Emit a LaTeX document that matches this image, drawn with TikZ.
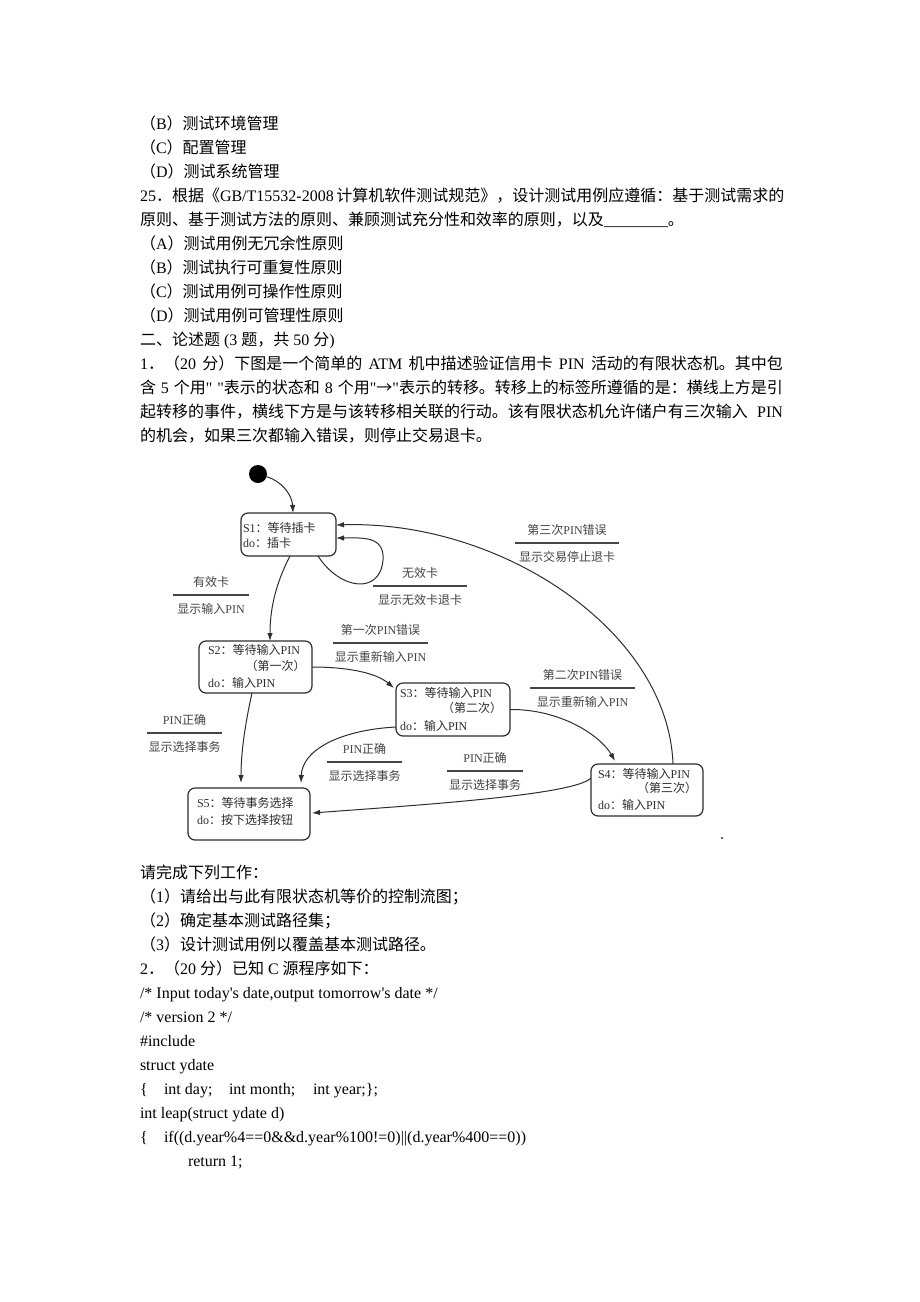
\documentclass[tikz,border=0pt]{standalone}
\usepackage{fontspec}
\setmainfont{Liberation Serif}[Ligatures=TeXOff]
\newfontfamily\cjkfont{Noto Sans CJK SC}
\usetikzlibrary{arrows.meta,calc}
\XeTeXinterchartokenstate=1
\newcount\cjkcnt
\newcommand\setcjkrange[2]{\cjkcnt=#1\relax\loop\XeTeXcharclass\cjkcnt=1\relax\ifnum\cjkcnt<#2\advance\cjkcnt by 1\relax\repeat}
\setcjkrange{"4E00}{"9FFF}
\setcjkrange{"3000}{"303F}
\setcjkrange{"FF00}{"FFEF}
\XeTeXcharclass"2192=1
\XeTeXinterchartoks 0 1 = {\cjkfont}
\XeTeXinterchartoks 4095 1 = {\cjkfont}
\XeTeXinterchartoks 1 0 = {\rmfamily}
\XeTeXinterchartoks 1 4095 = {\rmfamily}
\definecolor{dg}{HTML}{2E2E2E}
\definecolor{lgc}{HTML}{454545}
\newcommand\translabel[6]{%
  \coordinate (#1) at (#2,#3);
  \draw[labline] ($(#1)+(-#4,0)$) -- ($(#1)+(#4,0)$);
  \node[labtext] (#1e) at ($(#1)+(0,-8.5)$) {#5};
  \node[labtext] (#1a) at ($(#1)+(0,18)$) {#6};}
\begin{document}
\begin{tikzpicture}[x=1pt,y=-1pt,
  every node/.style={inner sep=0pt,outer sep=0pt},
  txt/.style={anchor=base west,font=\fontsize{16pt}{24pt}\selectfont,text=black},
  stbox/.style={draw=dg,line width=1.2pt,rounded corners=7pt},
  sttext/.style={font=\fontsize{12pt}{14pt}\selectfont,text=dg},
  labtext/.style={anchor=base,font=\fontsize{12pt}{14pt}\selectfont,text=lgc},
  labline/.style={draw=lgc,line width=1.1pt},
  conn/.style={draw=dg,line width=1pt,-{Latex[length=8pt,width=5.5pt]}}]
\fill[white] (0,0) rectangle (920,1302);
\path[use as bounding box] (0,0) rectangle (920,1302);
% ---- upper text ----
\node[txt] (t1) at (140,129) {（B）测试环境管理};
\node[txt] (t2) at (140,153) {（C）配置管理};
\node[txt] (t3) at (140,177) {（D）测试系统管理};
\node[txt] (t4) at (140,201) {\makebox[643pt][s]{25．根据《GB/T15532-2008 计算机软件测试规范》，设计测试用例应遵循：基于测试需求的}};
\node[txt] (t5) at (140,225) {原则、基于测试方法的原则、兼顾测试充分性和效率的原则，以及\_\_\_\_\_\_\_\_。};
\node[txt] (t6) at (140,249) {（A）测试用例无冗余性原则};
\node[txt] (t7) at (140,273) {（B）测试执行可重复性原则};
\node[txt] (t8) at (140,297) {（C）测试用例可操作性原则};
\node[txt] (t9) at (140,321) {（D）测试用例可管理性原则};
\node[txt] (t10) at (140,345) {二、论述题 (3 题，共 50 分)};
\node[txt] (t11) at (140,369) {\makebox[643pt][s]{1．（20 分）下图是一个简单的 ATM 机中描述验证信用卡 PIN 活动的有限状态机。其中包}};
\node[txt] (t12) at (140,393) {\makebox[643pt][s]{含 5 个用" "表示的状态和 8 个用"→"表示的转移。转移上的标签所遵循的是：横线上方是引}};
\node[txt] (t13) at (140,417) {\makebox[643pt][s]{起转移的事件，横线下方是与该转移相关联的行动。该有限状态机允许储户有三次输入 PIN}};
\node[txt] (t14) at (140,441) {的机会，如果三次都输入错误，则停止交易退卡。};
% ---- diagram ----
\node[circle,fill=black,minimum size=18pt] (init) at (258,474) {};
\node[stbox,minimum width=95pt,minimum height=43pt] (s1) at (288.5,534.5) {};
\node[stbox,minimum width=113pt,minimum height=52pt] (s2) at (255.5,667) {};
\node[stbox,minimum width=114pt,minimum height=53pt] (s3) at (453,709.5) {};
\node[stbox,minimum width=112pt,minimum height=52pt] (s4) at (647,790) {};
\node[stbox,minimum width=122pt,minimum height=52pt] (s5) at (249,814) {};
\node[sttext,anchor=base west] (s1a) at (243,532.5) {S1：等待插卡};
\node[sttext,anchor=base west] (s1b) at (243,547.5) {do：插卡};
\node[sttext,anchor=base west] (s2a) at (208,654.5) {S2：等待输入PIN};
\node[sttext,anchor=base] (s2b) at (275.5,670.5) {（第一次）};
\node[sttext,anchor=base west] (s2c) at (208,687.5) {do：输入PIN};
\node[sttext,anchor=base west] (s3a) at (400,697) {S3：等待输入PIN};
\node[sttext,anchor=base] (s3b) at (472,712.5) {（第二次）};
\node[sttext,anchor=base west] (s3c) at (400,730.5) {do：输入PIN};
\node[sttext,anchor=base west] (s4a) at (598,778.5) {S4：等待输入PIN};
\node[sttext,anchor=base] (s4b) at (667,792.5) {（第三次）};
\node[sttext,anchor=base west] (s4c) at (598,809.5) {do：输入PIN};
\node[sttext,anchor=base west] (s5a) at (197,807.5) {S5：等待事务选择};
\node[sttext,anchor=base west] (s5b) at (197,824.5) {do：按下选择按钮};
% connectors
\draw[conn] (init) .. controls (281,481) and (292,494) .. ($(s1.north)+(4.5,0)$);
\draw[conn] ($(s1.south)+(29.5,0)$) .. controls (340,590) and (380,595) .. (383,560) .. controls (385,535) and (360,538) .. ($(s1.east)+(0,3.5)$);
\draw[conn] ($(s4.north)+(26,0)$) .. controls (668,630) and (500,520) .. ($(s1.east)+(0,-9.5)$);
\draw[conn] ($(s1.south)+(1.5,0)$) .. controls (275,585) and (270,610) .. ($(s2.north)+(14.5,0)$);
\draw[conn] (s2.east) .. controls (345,667) and (375,672) .. ($(s3.north west)+(-2,5)$);
\draw[conn] (s3.east) .. controls (560,709) and (600,735) .. ($(s4.north)+(-32,-3)$);
\draw[conn] ($(s2.south)+(-3.5,0)$) .. controls (246,720) and (241,750) .. ($(s5.north)+(-8,-5)$);
\draw[conn] ($(s3.south west)+(0,-9)$) .. controls (340,730) and (302,750) .. ($(s5.north)+(52,-5)$);
\draw[conn] ($(s4.west)+(0,-12)$) .. controls (575,795) and (420,805) .. ($(s5.east)+(2,-1)$);
% labels
\translabel{L1}{211}{595}{38}{有效卡}{显示输入PIN}
\translabel{L2}{420}{586}{47}{无效卡}{显示无效卡退卡}
\translabel{L3}{567}{543}{52}{第三次PIN错误}{显示交易停止退卡}
\translabel{L4}{380.5}{643}{47.5}{第一次PIN错误}{显示重新输入PIN}
\translabel{L5}{582.5}{688}{52.5}{第二次PIN错误}{显示重新输入PIN}
\translabel{L6}{184.5}{733}{37.5}{PIN正确}{显示选择事务}
\translabel{L7}{364.5}{762}{37.5}{PIN正确}{显示选择事务}
\translabel{L8}{485}{771}{38}{PIN正确}{显示选择事务}
\fill[dg] (722,838) circle[radius=1.2pt];
% ---- lower text ----
\node[txt] (b1) at (140,878) {请完成下列工作：};
\node[txt] (b2) at (140,902) {（1）请给出与此有限状态机等价的控制流图；};
\node[txt] (b3) at (140,926) {（2）确定基本测试路径集；};
\node[txt] (b4) at (140,950) {（3）设计测试用例以覆盖基本测试路径。};
\node[txt] (b5) at (140,974) {2．（20 分）已知 C 源程序如下：};
\node[txt] (b6) at (140,998) {/* Input today's date,output tomorrow's date */};
\node[txt] (b7) at (140,1022) {/* version 2 */};
\node[txt] (b8) at (140,1046) {\#include};
\node[txt] (b9) at (140,1070) {struct ydate};
\node[txt] (b10) at (140,1094) {\makebox[24pt][l]{\{}\makebox[65pt][l]{int day;}\makebox[84pt][l]{int month;}int year;\};};
\node[txt] (b11) at (140,1118) {int leap(struct ydate d)};
\node[txt] (b12) at (140,1142) {\makebox[24pt][l]{\{}if((d.year\%4==0\&\&d.year\%100!=0)||(d.year\%400==0))};
\node[txt] (b13) at (188,1166) {return 1;};
\end{tikzpicture}
\end{document}
